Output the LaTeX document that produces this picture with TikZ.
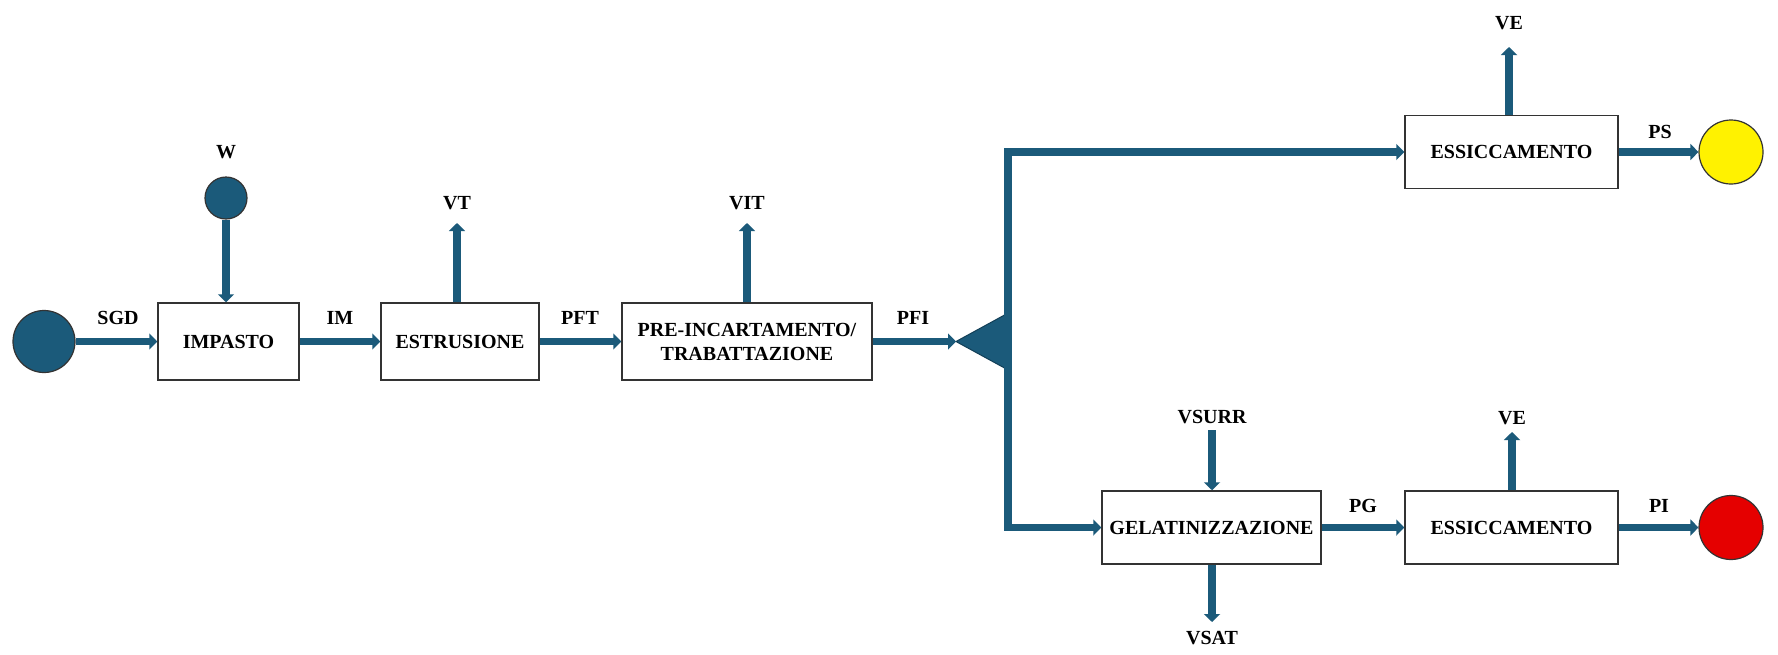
\documentclass[tikz,border=0pt]{standalone}
\usepackage{fontspec}
\setmainfont{Liberation Serif}
\usetikzlibrary{arrows.meta}
\definecolor{flowc}{HTML}{1B5A7A}
\definecolor{flowd}{HTML}{123F57}
\begin{document}
\begin{tikzpicture}[x=0.5pt,y=-0.5pt,
  box/.style={draw=black!80, line width=0.75pt, fill=white, inner sep=0pt, align=center,
    font=\bfseries\fontsize{10}{12}\selectfont},
  lbl/.style={inner sep=0pt, font=\bfseries\fontsize{10}{12}\selectfont},
  flow/.style={draw=flowc, line width=3.8pt, -{Triangle[length=4pt,width=8pt]}},
  flowline/.style={draw=flowc, line width=3.8pt, line cap=rect},
  ball/.style={circle, draw=black!80, line width=0.6pt, inner sep=0pt}]
\useasboundingbox (0,0) rectangle (1778,654);
\fill[white] (0,0) rectangle (1778,654);

% boxes
\node[box, minimum width=70.5pt, minimum height=38.5pt] (imp) at (228.5,341.5) {IMPASTO};
\node[box, minimum width=79pt, minimum height=38.5pt] (est) at (460,341.5) {ESTRUSIONE};
\node[box, minimum width=125pt, minimum height=38.5pt] (pre) at (747,341.5) {PRE-INCARTAMENTO/\\TRABATTAZIONE};
\node[box, minimum width=106.5pt, minimum height=36.5pt] (ess1) at (1511.5,152) {ESSICCAMENTO};
\node[box, minimum width=109.5pt, minimum height=36.5pt] (gel) at (1211.5,527.5) {GELATINIZZAZIONE};
\node[box, minimum width=106.5pt, minimum height=36.5pt] (ess2) at (1511.5,527.5) {ESSICCAMENTO};

% circles
\node[ball, fill=flowc, minimum size=31pt] (src) at (44,341.5) {};
\node[ball, fill=flowc, minimum size=21pt] (w) at (226,198) {};
\node[ball, fill=yellow, minimum size=32pt] (ps) at (1731,152) {};
\node[ball, fill=red!90!black, minimum size=32pt] (pi) at (1731,527.5) {};

% splitter
\coordinate (split) at (956,341.5);
\coordinate (jt) at (1008,152);
\coordinate (jb) at (1008,527.5);
\fill[flowc, draw=flowd, line width=0.5pt] (split) -- (1010,312) -- (1010,371) -- cycle;

% free ends
\coordinate (vtend) at (457,223);
\coordinate (vitend) at (747,223);
\coordinate (veaend) at (1509,47);
\coordinate (vebend) at (1512,432);
\coordinate (vsurrbeg) at (1212,430);
\coordinate (vsatend) at (1212,622);

% labels
\node[lbl] (lw) at (226,152) {W};
\node[lbl] (lsgd) at (118,318) {SGD};
\node[lbl] (lim) at (340,318) {IM};
\node[lbl] (lpft) at (580,318) {PFT};
\node[lbl] (lpfi) at (913,318) {PFI};
\node[lbl] (lvt) at (457,203) {VT};
\node[lbl] (lvit) at (747,203) {VIT};
\node[lbl] (lvea) at (1509,23) {VE};
\node[lbl] (lps) at (1660,132) {PS};
\node[lbl] (lvsurr) at (1212,417) {VSURR};
\node[lbl] (lvsat) at (1212,638) {VSAT};
\node[lbl] (lpg) at (1363,506) {PG};
\node[lbl] (lveb) at (1512,418) {VE};
\node[lbl] (lpi) at (1659,506) {PI};

% connectors
\draw[flow] (src.east) -- (imp.west);
\draw[flow] (w.south) -- (w.south |- imp.north);
\draw[flow] (imp.east) -- (est.west);
\draw[flow] (vtend |- est.north) -- (vtend);
\draw[flow] (est.east) -- (pre.west);
\draw[flow] (vitend |- pre.north) -- (vitend);
\draw[flow] (pre.east) -- (split);
\draw[flowline] (jt) -- (jb);
\draw[flow] (jt) -- (ess1.west);
\draw[flow] (jb) -- (gel.west);
\draw[flow] (veaend |- ess1.north) -- (veaend);
\draw[flow] (ess1.east) -- (ps.west);
\draw[flow] (vsurrbeg) -- (vsurrbeg |- gel.north);
\draw[flow] (vsatend |- gel.south) -- (vsatend);
\draw[flow] (gel.east) -- (ess2.west);
\draw[flow] (vebend |- ess2.north) -- (vebend);
\draw[flow] (ess2.east) -- (pi.west);
\end{tikzpicture}
\end{document}
